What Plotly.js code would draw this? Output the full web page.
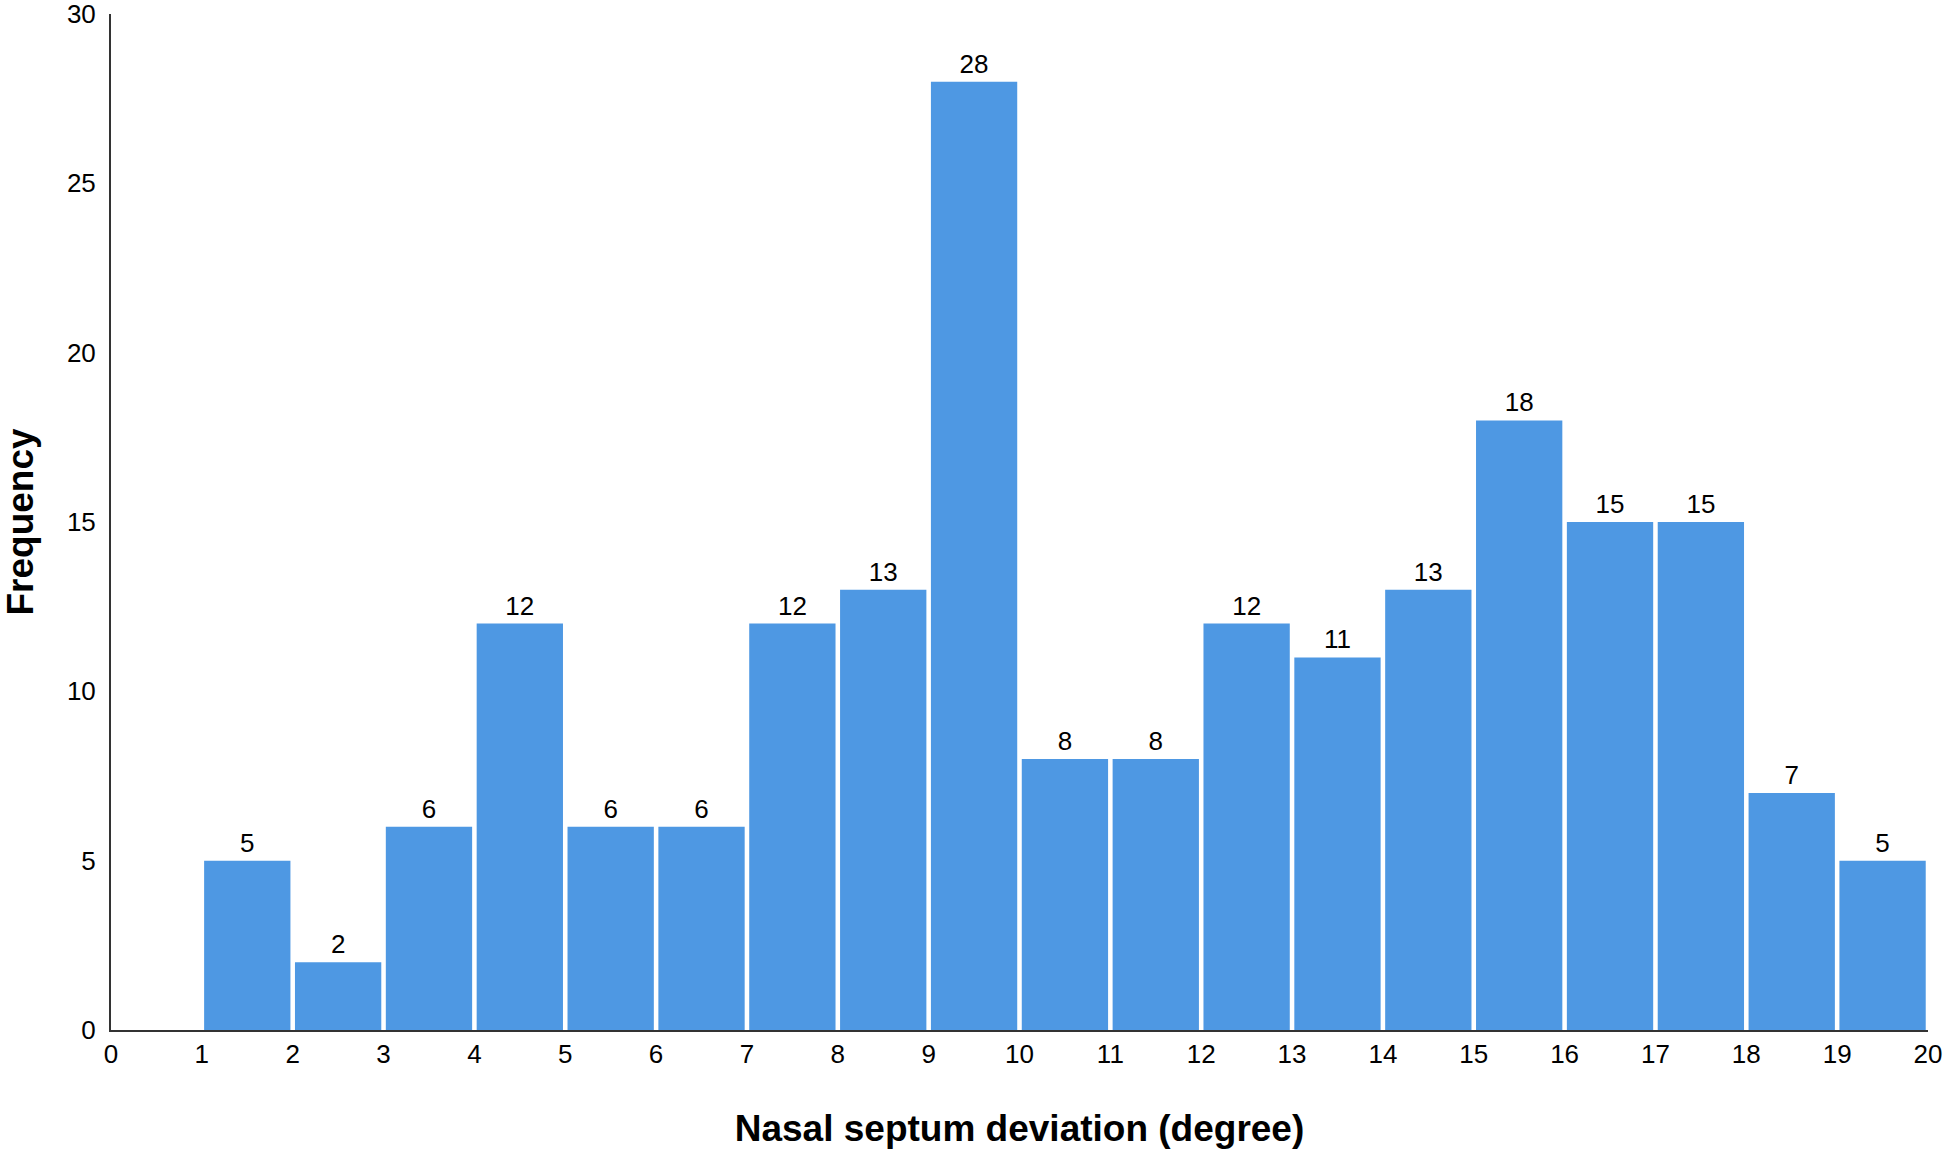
<!DOCTYPE html>
<html lang="en">
<head>
    <meta charset="UTF-8">
    <title>Nasal septum deviation</title>
    <script src="https://cdn.plot.ly/plotly-3.0.1.min.js"></script>
    <style>
        body { margin: 0; background: #fff; }
        #chart { width: 1944px; height: 1151px; }
    </style>
</head>
<body>
<div id="chart"></div>
<script>
    // bins of 1 degree, from 1-2 up to 19-20
    var binStarts = [1, 2, 3, 4, 5, 6, 7, 8, 9, 10, 11, 12, 13, 14, 15, 16, 17, 18, 19];
    var counts = [5, 2, 6, 12, 6, 6, 12, 13, 28, 8, 8, 12, 11, 13, 18, 15, 15, 7, 5];
    var xTicks = [0, 1, 2, 3, 4, 5, 6, 7, 8, 9, 10, 11, 12, 13, 14, 15, 16, 17, 18, 19, 20];
    var yTicks = [0, 5, 10, 15, 20, 25, 30];

    var font = 'Liberation Sans, Arial, sans-serif';

    var trace = {
        type: 'bar',
        x: binStarts.map(function (b) { return b + 0.5; }),
        y: counts,
        width: 0.95,
        marker: { color: '#4e98e3' },
        text: counts.map(String),
        textposition: 'outside',
        textfont: { family: font, size: 26, color: '#000' },
        cliponaxis: false,
        hoverinfo: 'x+y'
    };

    var layout = {
        width: 1944,
        height: 1151,
        margin: { l: 111, r: 16, t: 14, b: 121 },
        paper_bgcolor: '#fff',
        plot_bgcolor: '#fff',
        showlegend: false,
        xaxis: {
            range: [0, 20],
            tickvals: xTicks,
            ticks: '',
            showgrid: false,
            zeroline: false,
            showline: true,
            linecolor: '#333',
            linewidth: 2,
            automargin: false,
            tickfont: { family: font, size: 26, color: '#000' },
            title: {
                text: '<b>Nasal septum deviation (degree)</b>',
                font: { family: font, size: 37, color: '#000' },
                standoff: 47
            }
        },
        yaxis: {
            range: [0, 30],
            tickvals: yTicks,
            ticks: '',
            showgrid: false,
            zeroline: false,
            showline: true,
            linecolor: '#333',
            linewidth: 2,
            automargin: false,
            ticklabeloverflow: 'allow',
            ticklabelstandoff: 8,
            tickfont: { family: font, size: 26, color: '#000' },
            title: {
                text: '<b>Frequency</b>',
                font: { family: font, size: 37, color: '#000' },
                standoff: 34
            }
        }
    };

    Plotly.newPlot('chart', [trace], layout, { displayModeBar: false, staticPlot: true });
</script>
</body>
</html>
